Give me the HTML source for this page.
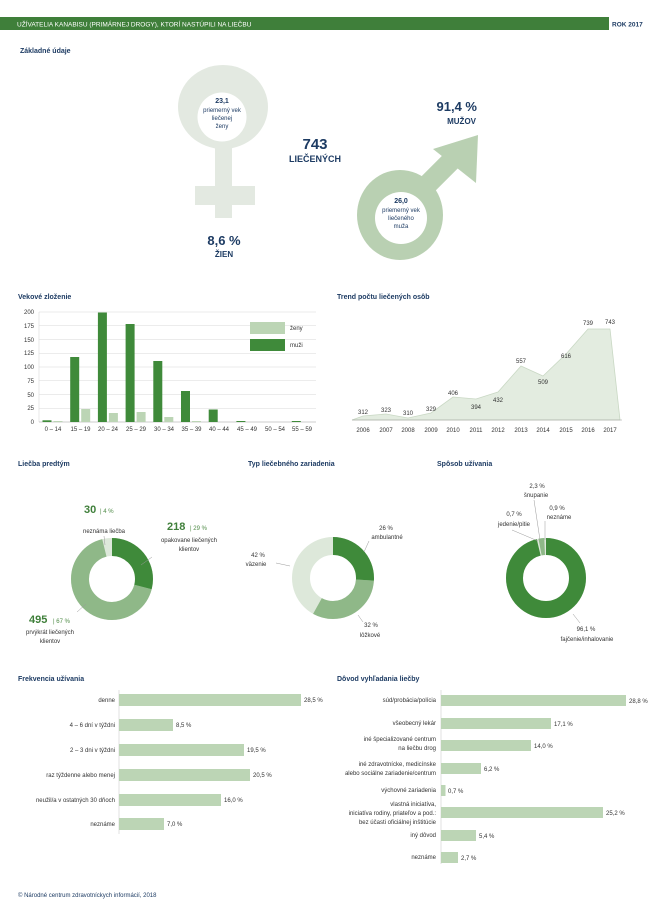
<!DOCTYPE html>
<html><head><meta charset="utf-8"><style>
html,body{margin:0;padding:0;background:#fff}
svg{display:block}
text{font-family:"Liberation Sans",sans-serif}
.t{font-size:7px;fill:#1d3b63;font-weight:bold}
.s{font-size:6px;fill:#333}
.n{font-size:6px;fill:#1d3b63}
.g{font-size:6px;fill:#4d8a45}
</style></head><body>
<svg width="656" height="916" viewBox="0 0 656 916" xmlns="http://www.w3.org/2000/svg">
<rect x="0" y="17" width="609" height="13" fill="#3f7f3a"/>
<text x="17" y="26.5" font-size="6.5" fill="#fff">UŽÍVATELIA KANABISU (PRIMÁRNEJ DROGY), KTORÍ NASTÚPILI NA LIEČBU</text>
<text x="612" y="26.5" font-size="6.5" fill="#1d3b63" font-weight="bold">ROK 2017</text>
<text x="20" y="53" class="t">Základné údaje</text>

<ellipse cx="223" cy="107" rx="45" ry="42" fill="#e3e9e1"/>
<circle cx="222" cy="117" r="24.5" fill="#fff"/>
<rect x="215" y="146" width="17" height="72" fill="#e3e9e1"/>
<rect x="195" y="186" width="60" height="19" fill="#e3e9e1"/>
<g text-anchor="middle">
<text x="222" y="103" font-size="7" font-weight="bold" fill="#1d3b63">23,1</text>
<text x="222" y="112" class="n">priemerný vek</text>
<text x="222" y="120" class="n">liečenej</text>
<text x="222" y="128" class="n">ženy</text>
<text x="224" y="245" font-size="13" font-weight="bold" fill="#1d3b63">8,6 %</text>
<text x="224" y="257" font-size="8" font-weight="bold" fill="#1d3b63">ŽIEN</text>
<text x="315" y="149" font-size="15" font-weight="bold" fill="#1d3b63">743</text>
<text x="315" y="162" font-size="9" font-weight="bold" fill="#1d3b63">LIEČENÝCH</text>
</g>
<line x1="412" y1="200" x2="462" y2="150" stroke="#b9d0b2" stroke-width="20"/>
<polygon points="433,149 478,135 476,183" fill="#b9d0b2"/>
<ellipse cx="400" cy="215" rx="43" ry="45" fill="#b9d0b2"/>
<circle cx="401" cy="218" r="26" fill="#fff"/>
<g text-anchor="middle">
<text x="401" y="203" font-size="7" font-weight="bold" fill="#1d3b63">26,0</text>
<text x="401" y="212" class="n">priemerný vek</text>
<text x="401" y="220" class="n">liečeného</text>
<text x="401" y="228" class="n">muža</text>
</g>
<g text-anchor="end">
<text x="477" y="111" font-size="13" font-weight="bold" fill="#1d3b63">91,4 %</text>
<text x="476" y="124" font-size="8" font-weight="bold" fill="#1d3b63">MUŽOV</text>
</g>

<text x="18" y="299" class="t">Vekové zloženie</text>
<g stroke="#d8d8d8" stroke-width="0.6">
<line x1="39" y1="312" x2="316" y2="312"/><line x1="39" y1="325.75" x2="316" y2="325.75"/>
<line x1="39" y1="339.5" x2="316" y2="339.5"/><line x1="39" y1="353.25" x2="316" y2="353.25"/>
<line x1="39" y1="367" x2="316" y2="367"/><line x1="39" y1="380.75" x2="316" y2="380.75"/>
<line x1="39" y1="394.5" x2="316" y2="394.5"/><line x1="39" y1="408.25" x2="316" y2="408.25"/>
<line x1="39" y1="312" x2="39" y2="422"/>
</g>
<line x1="39" y1="422" x2="316" y2="422" stroke="#999" stroke-width="0.6"/>
<g class="s" text-anchor="end" font-size="5.5">
<text x="34" y="314">200</text><text x="34" y="328">175</text><text x="34" y="342">150</text>
<text x="34" y="355">125</text><text x="34" y="369">100</text><text x="34" y="383">75</text>
<text x="34" y="397">50</text><text x="34" y="410">25</text><text x="34" y="424">0</text>
</g>
<g fill="#3f8a3a">
<rect x="42.5" y="420.3" width="9" height="1.7"/>
<rect x="70.2" y="357" width="9" height="65"/>
<rect x="97.9" y="312.5" width="9" height="109.5"/>
<rect x="125.6" y="324" width="9" height="98"/>
<rect x="153.3" y="361" width="9" height="61"/>
<rect x="181" y="391" width="9" height="31"/>
<rect x="208.7" y="409.5" width="9" height="12.5"/>
<rect x="236.4" y="421" width="9" height="1"/>
<rect x="291.8" y="421" width="9" height="1"/>
</g>
<g fill="#bcd5b5">
<rect x="53.5" y="421" width="9" height="1"/>
<rect x="81.2" y="409" width="9" height="13"/>
<rect x="108.9" y="413" width="9" height="9"/>
<rect x="136.6" y="412" width="9" height="10"/>
<rect x="164.3" y="417" width="9" height="5"/>
<rect x="192" y="421" width="9" height="1"/>
</g>
<g class="s" text-anchor="middle" font-size="5.5">
<text x="53" y="431">0 – 14</text><text x="80.5" y="431">15 – 19</text><text x="108" y="431">20 – 24</text>
<text x="136" y="431">25 – 29</text><text x="164" y="431">30 – 34</text><text x="191.5" y="431">35 – 39</text>
<text x="219" y="431">40 – 44</text><text x="247" y="431">45 – 49</text><text x="275" y="431">50 – 54</text>
<text x="302" y="431">55 – 59</text>
</g>
<rect x="250" y="322" width="35" height="12" fill="#bcd5b5"/>
<rect x="250" y="339" width="35" height="12" fill="#3f8a3a"/>
<text x="290" y="330" class="s">ženy</text><text x="290" y="347" class="s">muži</text>

<text x="337" y="299" class="t">Trend počtu liečených osôb</text>
<polygon points="352,420 363,416 386,414 408,418 431,413 453,397 476,399 498,392 521,366 543,376 566,354 588,329 610,329 620,420" fill="#e3ece0" stroke="#c9d8c4" stroke-width="0.8"/>
<line x1="352" y1="420" x2="622" y2="420" stroke="#999" stroke-width="0.6"/>
<g class="s" text-anchor="middle" font-size="5.5">
<text x="363" y="414">312</text><text x="386" y="412">323</text><text x="408" y="415">310</text><text x="431" y="411">329</text>
<text x="453" y="395">406</text><text x="476" y="409">394</text><text x="498" y="402">432</text><text x="521" y="363">557</text>
<text x="543" y="384">509</text><text x="566" y="358">616</text><text x="588" y="325">739</text><text x="610" y="324">743</text>
<text x="363" y="432">2006</text><text x="386" y="432">2007</text><text x="408" y="432">2008</text><text x="431" y="432">2009</text>
<text x="453" y="432">2010</text><text x="476" y="432">2011</text><text x="498" y="432">2012</text><text x="521" y="432">2013</text>
<text x="543" y="432">2014</text><text x="566" y="432">2015</text><text x="588" y="432">2016</text><text x="610" y="432">2017</text>
</g>

<text x="18" y="466" class="t">Liečba predtým</text>
<text x="248" y="466" class="t">Typ liečebného zariadenia</text>
<text x="437" y="466" class="t">Spôsob užívania</text>
<g fill="none" stroke-width="18" transform="rotate(-90 112 579)">
<circle cx="112" cy="579" r="32" stroke="#dde8da"/>
<circle cx="112" cy="579" r="32" stroke="#8fb888" stroke-dasharray="134.7 201.06" stroke-dashoffset="-58.3"/>
<circle cx="112" cy="579" r="32" stroke="#3f8a3a" stroke-dasharray="58.3 201.06"/>
</g>
<g fill="none" stroke-width="18" transform="rotate(-90 333 578)">
<circle cx="333" cy="578" r="32" stroke="#dde8da"/>
<circle cx="333" cy="578" r="32" stroke="#8fb888" stroke-dasharray="64.3 201.06" stroke-dashoffset="-52.3"/>
<circle cx="333" cy="578" r="32" stroke="#3f8a3a" stroke-dasharray="52.3 201.06"/>
</g>
<g fill="none" stroke-width="17" transform="rotate(-90 546 578)">
<circle cx="546" cy="578" r="31.5" stroke="#dde8da"/>
<circle cx="546" cy="578" r="31.5" stroke="#3f8a3a" stroke-dasharray="190.2 197.9"/>
<circle cx="546" cy="578" r="31.5" stroke="#8fb888" stroke-dasharray="4.6 197.9" stroke-dashoffset="-191.6"/>
</g>
<g stroke="#999" stroke-width="0.5">
<line x1="104" y1="536" x2="105" y2="545"/><line x1="152" y1="557" x2="141" y2="565"/><line x1="77" y1="612" x2="86" y2="604"/>
<line x1="369" y1="541" x2="364" y2="552"/><line x1="276" y1="563" x2="290" y2="566"/><line x1="358" y1="615" x2="363" y2="622"/>
<line x1="534" y1="500" x2="540" y2="540"/><line x1="512" y1="530" x2="538" y2="541"/><line x1="545" y1="521" x2="545" y2="540"/><line x1="573" y1="614" x2="580" y2="623"/>
</g>
<text x="84" y="513" font-size="11" font-weight="bold" fill="#3f7f3a">30</text><text x="100" y="513" class="g">| 4 %</text>
<text x="104" y="533" class="s" text-anchor="middle">neznáma liečba</text>
<text x="167" y="530" font-size="11" font-weight="bold" fill="#3f7f3a">218</text><text x="190" y="530" class="g">| 29 %</text>
<text x="189" y="542" class="s" text-anchor="middle">opakovane liečených</text>
<text x="189" y="551" class="s" text-anchor="middle">klientov</text>
<text x="29" y="623" font-size="11" font-weight="bold" fill="#3f7f3a">495</text><text x="53" y="623" class="g">| 67 %</text>
<text x="50" y="634" class="s" text-anchor="middle">prvýkrát liečených</text>
<text x="50" y="643" class="s" text-anchor="middle">klientov</text>
<g class="s" text-anchor="middle">
<text x="386" y="530">26 %</text><text x="387" y="539">ambulantné</text>
<text x="258" y="557">42 %</text><text x="256" y="566">väzenie</text>
<text x="371" y="627">32 %</text><text x="370" y="637">lôžkové</text>
<text x="537" y="488">2,3 %</text><text x="536" y="497">šnupanie</text>
<text x="514" y="516">0,7 %</text><text x="514" y="526">jedenie/pitie</text>
<text x="557" y="510">0,9 %</text><text x="559" y="519">neznáme</text>
<text x="586" y="631">96,1 %</text><text x="587" y="641">fajčenie/inhalovanie</text>
</g>

<text x="18" y="681" class="t">Frekvencia užívania</text>
<line x1="119" y1="690" x2="119" y2="834" stroke="#ccc" stroke-width="0.6"/>
<g fill="#bcd5b5">
<rect x="119" y="694" width="182" height="12"/>
<rect x="119" y="719" width="54" height="12"/>
<rect x="119" y="744" width="125" height="12"/>
<rect x="119" y="769" width="131" height="12"/>
<rect x="119" y="794" width="102" height="12"/>
<rect x="119" y="818" width="45" height="12"/>
</g>
<g class="s" text-anchor="end">
<text x="115" y="702">denne</text><text x="115" y="727">4 – 6 dní v týždni</text><text x="115" y="752">2 – 3 dni v týždni</text>
<text x="115" y="777">raz týždenne alebo menej</text><text x="115" y="802">neužil/a v ostatných 30 dňoch</text><text x="115" y="826">neznáme</text>
</g>
<g class="s">
<text x="304" y="702">28,5 %</text><text x="176" y="727">8,5 %</text><text x="247" y="752">19,5 %</text>
<text x="253" y="777">20,5 %</text><text x="224" y="802">16,0 %</text><text x="167" y="826">7,0 %</text>
</g>

<text x="337" y="681" class="t">Dôvod vyhľadania liečby</text>
<line x1="441" y1="690" x2="441" y2="864" stroke="#ccc" stroke-width="0.6"/>
<g fill="#bcd5b5">
<rect x="441" y="695" width="185" height="11"/>
<rect x="441" y="718" width="110" height="11"/>
<rect x="441" y="740" width="90" height="11"/>
<rect x="441" y="763" width="40" height="11"/>
<rect x="441" y="785" width="4.5" height="11"/>
<rect x="441" y="807" width="162" height="11"/>
<rect x="441" y="830" width="35" height="11"/>
<rect x="441" y="852" width="17" height="11"/>
</g>
<g class="s" text-anchor="end">
<text x="436" y="702">súd/probácia/polícia</text>
<text x="436" y="725">všeobecný lekár</text>
<text x="436" y="741">iné špecializované centrum</text><text x="436" y="750">na liečbu drog</text>
<text x="436" y="766">iné zdravotnícke, medicínske</text><text x="436" y="775">alebo sociálne zariadenie/centrum</text>
<text x="436" y="792">výchovné zariadenia</text>
<text x="436" y="806">vlastná iniciatíva,</text><text x="436" y="815">iniciatíva rodiny, priateľov a pod.:</text><text x="436" y="824">bez účasti oficiálnej inštitúcie</text>
<text x="436" y="837">iný dôvod</text>
<text x="436" y="859">neznáme</text>
</g>
<g class="s">
<text x="629" y="703">28,8 %</text><text x="554" y="726">17,1 %</text><text x="534" y="748">14,0 %</text>
<text x="484" y="771">6,2 %</text><text x="448" y="793">0,7 %</text><text x="606" y="815">25,2 %</text>
<text x="479" y="838">5,4 %</text><text x="461" y="860">2,7 %</text>
</g>
<text x="18" y="897" font-size="6" fill="#1d3b63">© Národné centrum zdravotníckych informácií, 2018</text>
</svg>
</body></html>
